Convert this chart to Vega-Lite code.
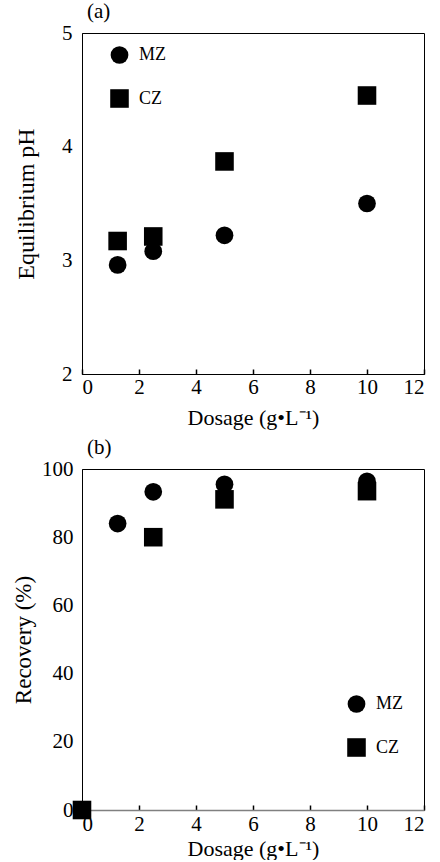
{
  "$schema": "https://vega.github.io/schema/vega-lite/v6.json",
  "background": "white",
  "padding": {"left": 12, "top": 0, "right": 5, "bottom": 0},
  "spacing": 7,
  "datasets": {
    "ph": [
      {"series": "MZ", "dosage": 1.25, "value": 2.96},
      {"series": "MZ", "dosage": 2.5, "value": 3.08},
      {"series": "MZ", "dosage": 5, "value": 3.22},
      {"series": "MZ", "dosage": 10, "value": 3.5},
      {"series": "CZ", "dosage": 1.25, "value": 3.17},
      {"series": "CZ", "dosage": 2.5, "value": 3.21},
      {"series": "CZ", "dosage": 5, "value": 3.87},
      {"series": "CZ", "dosage": 10, "value": 4.45}
    ],
    "recovery": [
      {"series": "MZ", "dosage": 0, "value": 0},
      {"series": "MZ", "dosage": 1.25, "value": 84},
      {"series": "MZ", "dosage": 2.5, "value": 93.3},
      {"series": "MZ", "dosage": 5, "value": 95.5},
      {"series": "MZ", "dosage": 10, "value": 96.4},
      {"series": "CZ", "dosage": 0, "value": 0},
      {"series": "CZ", "dosage": 2.5, "value": 80},
      {"series": "CZ", "dosage": 5, "value": 91.1},
      {"series": "CZ", "dosage": 10, "value": 93.5}
    ]
  },
  "vconcat": [
    {
      "width": 342,
      "height": 341,
      "data": {"name": "ph"},
      "title": {"text": "(a)", "dx": 5, "offset": 0, "frame": "group"},
      "mark": {"type": "point", "filled": true, "opacity": 1, "color": "black"},
      "encoding": {
        "x": {"field": "dosage", "type": "quantitative", "scale": {"domain": [0, 12]},
          "axis": {"values": [0, 2, 4, 6, 8, 10, 12], "title": "Dosage (g•L⁻¹)", "titlePadding": 10, "labelPadding": 7}},
        "y": {"field": "value", "type": "quantitative", "scale": {"domain": [2, 5]},
          "axis": {"values": [2, 3, 4, 5], "ticks": false, "title": "Equilibrium pH", "titleFontSize": 24, "titlePadding": 23, "labelPadding": 10}},
        "shape": {"field": "series", "type": "nominal", "scale": {"domain": ["MZ", "CZ"], "range": ["circle", "square"]},
          "legend": {"orient": "none", "legendX": 28, "legendY": 13}},
        "size": {"field": "series", "type": "nominal", "scale": {"domain": ["MZ", "CZ"], "range": [315, 345]},
          "legend": {"orient": "none", "legendX": 28, "legendY": 13}}
      }
    },
    {
      "width": 342,
      "height": 341,
      "data": {"name": "recovery"},
      "title": {"text": "(b)", "dx": 5, "offset": 0, "frame": "group"},
      "mark": {"type": "point", "filled": true, "opacity": 1, "color": "black"},
      "encoding": {
        "x": {"field": "dosage", "type": "quantitative", "scale": {"domain": [0, 12]},
          "axis": {"values": [0, 2, 4, 6, 8, 10, 12], "title": "Dosage (g•L⁻¹)", "titlePadding": 4, "labelPadding": 8, "domainColor": "#808080", "domainWidth": 1.5}},
        "y": {"field": "value", "type": "quantitative", "scale": {"domain": [0, 100]},
          "axis": {"values": [0, 20, 40, 60, 80, 100], "ticks": false, "title": "Recovery (%)", "titleFontSize": 23, "titlePadding": 6, "labelPadding": 9}},
        "shape": {"field": "series", "type": "nominal", "scale": {"domain": ["MZ", "CZ"], "range": ["circle", "square"]},
          "legend": {"orient": "none", "legendX": 265, "legendY": 226}},
        "size": {"field": "series", "type": "nominal", "scale": {"domain": ["MZ", "CZ"], "range": [315, 345]},
          "legend": {"orient": "none", "legendX": 265, "legendY": 226}}
      }
    }
  ],
  "resolve": {"scale": {"shape": "independent", "size": "independent"}, "legend": {"shape": "independent", "size": "independent"}},
  "config": {
    "font": "Liberation Serif",
    "view": {"stroke": "black", "strokeWidth": 1},
    "axis": {
      "grid": false,
      "domainColor": "black",
      "tickColor": "black",
      "labelColor": "black",
      "titleColor": "black",
      "labelFont": "Liberation Serif",
      "titleFont": "Liberation Serif",
      "labelFontSize": 21,
      "titleFontSize": 22,
      "titleFontWeight": "normal",
      "tickSize": -5,
      "tickWidth": 1.5
    },
    "title": {"font": "Liberation Serif", "fontSize": 21, "fontWeight": "normal", "anchor": "start", "color": "black"},
    "legend": {
      "title": null,
      "padding": 0,
      "rowPadding": 25,
      "labelOffset": 10,
      "labelFont": "Liberation Serif",
      "labelFontSize": 18,
      "labelColor": "black",
      "symbolFillColor": "black",
      "symbolStrokeColor": "black",
      "symbolOpacity": 1,
      "symbolStrokeWidth": 0
    }
  }
}
